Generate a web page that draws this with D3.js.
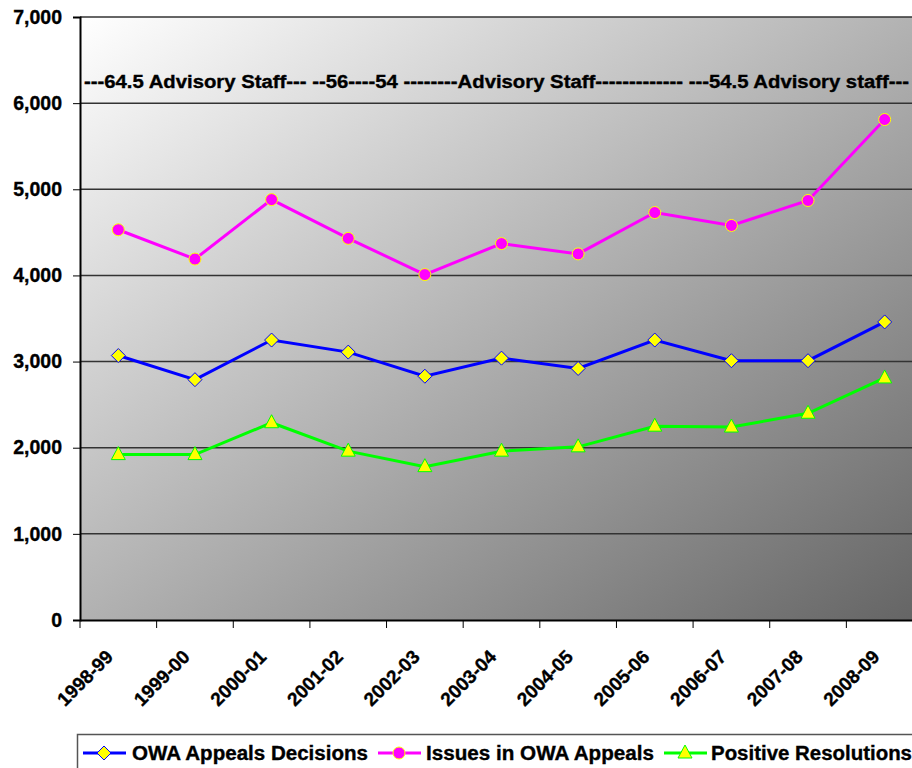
<!DOCTYPE html>
<html>
<head>
<meta charset="utf-8">
<script src="https://cdn.jsdelivr.net/npm/d3@7"></script>
<style>
  body { margin: 0; background: #fff; }
  svg { display: block; font-family: "Liberation Sans", Arial, sans-serif; }
  .lbl { stroke: #000; stroke-width: 0.35px; }
</style>
</head>
<body>
<script>
// data
const years = ["1998-99", "1999-00", "2000-01", "2001-02", "2002-03", "2003-04",
               "2004-05", "2005-06", "2006-07", "2007-08", "2008-09"]
const decisions = [3070, 2790, 3250, 3110, 2830, 3040, 2920, 3250, 3010, 3010, 3460]
const issues = [4530, 4190, 4880, 4430, 4010, 4370, 4250, 4730, 4580, 4870, 5810]
const positive = [1920, 1920, 2290, 1960, 1780, 1960, 2010, 2250, 2240, 2400, 2810]
const yTicks = [0, 1000, 2000, 3000, 4000, 5000, 6000, 7000]
const note = "---64.5 Advisory Staff---  --56----54 --------Advisory Staff------------- ---54.5 Advisory staff---"

const series = [
  { name: "OWA Appeals Decisions", values: decisions, line: "#0000ff", marker: "diamond" },
  { name: "Issues in OWA Appeals", values: issues, line: "#ff00ff", marker: "circle" },
  { name: "Positive Resolutions", values: positive, line: "#00ff00", marker: "triangle" }
]

const width = 912, height = 768
const margin = { top: 17, right: -11, bottom: 148, left: 80 }

const svg = d3.select("body").append("svg")
  .attr("width", width)
  .attr("height", height)

const defs = svg.append("defs")
const grad = defs.append("linearGradient")
  .attr("id", "bg")
  .attr("x1", 0).attr("y1", 0).attr("x2", 1).attr("y2", 1)
grad.append("stop").attr("offset", "0%").attr("stop-color", "#ffffff")
grad.append("stop").attr("offset", "100%").attr("stop-color", "#646464")

const x = d3.scaleBand()
  .domain(years)
  .range([margin.left, width - margin.right])

const y = d3.scaleLinear()
  .domain([0, 7000])
  .range([height - margin.bottom, margin.top])

// plot background
svg.append("rect")
  .attr("x", margin.left)
  .attr("y", margin.top)
  .attr("width", width - margin.right - margin.left)
  .attr("height", y(0) - margin.top)
  .attr("fill", "url(#bg)")

// gridlines
svg.append("g")
  .selectAll("line")
  .data(yTicks.filter(d => d > 0))
  .join("line")
    .attr("x1", margin.left)
    .attr("x2", width)
    .attr("y1", d => y(d))
    .attr("y2", d => y(d))
    .attr("stroke", "#333")
    .attr("stroke-width", 1.5)

// y axis
const yAxis = svg.append("g")
  .attr("transform", `translate(${margin.left},0)`)
  .call(d3.axisLeft(y).tickValues(yTicks).tickFormat(d3.format(",")).tickSize(7).tickPadding(11))
yAxis.select(".domain").attr("stroke", "#000").attr("stroke-width", 2)
yAxis.selectAll(".tick line").attr("stroke", "#000")
yAxis.selectAll(".tick text")
  .attr("class", "lbl")
  .attr("fill", "#000")
  .attr("font-size", 19.5)
  .attr("font-weight", "bold")

// x axis
const xAxis = svg.append("g")
  .attr("transform", `translate(0,${y(0)})`)
  .call(d3.axisBottom(x).tickSize(0).tickFormat(""))
xAxis.select(".domain").attr("stroke", "#000").attr("stroke-width", 2)

// ticks sit on the category boundaries
svg.append("g")
  .selectAll("line")
  .data(years)
  .join("line")
    .attr("x1", d => x(d))
    .attr("x2", d => x(d))
    .attr("y1", y(0))
    .attr("y2", y(0) + 8)
    .attr("stroke", "#000")

svg.append("g")
  .selectAll("text")
  .data(years)
  .join("text")
    .attr("class", "lbl")
    .attr("transform", d => `translate(${x(d) + x.bandwidth() / 2 - 4},${y(0) + 38}) rotate(-45)`)
    .attr("text-anchor", "end")
    .attr("font-size", 19)
    .attr("font-weight", "bold")
    .text(d => d)

// annotation
svg.append("text")
  .attr("class", "lbl")
  .attr("x", 84)
  .attr("y", 88)
  .attr("textLength", 825)
  .attr("lengthAdjust", "spacingAndGlyphs")
  .attr("font-size", 18)
  .attr("font-weight", "bold")
  .text(note)

const cx = (d, i) => x(years[i]) + x.bandwidth() / 2

function drawMarker(g, type) {
  if (type === "diamond") {
    g.append("path")
      .attr("d", "M0,-7L7,0L0,7L-7,0Z")
      .attr("fill", "#ffff00")
      .attr("stroke", "#0000ff")
      .attr("stroke-width", 1)
  } else if (type === "circle") {
    g.append("circle")
      .attr("r", 6)
      .attr("fill", "#ff00ff")
      .attr("stroke", "#ffff00")
      .attr("stroke-width", 1)
  } else {
    g.append("path")
      .attr("d", "M0,-8L7,5L-7,5Z")
      .attr("fill", "#ffff00")
      .attr("stroke", "#00ff00")
      .attr("stroke-width", 1)
  }
}

const line = d3.line().x(cx).y(d => y(d))

series.forEach(s => {
  svg.append("path")
    .datum(s.values)
    .attr("d", line)
    .attr("fill", "none")
    .attr("stroke", s.line)
    .attr("stroke-width", 3)

  svg.append("g")
    .selectAll("g")
    .data(s.values)
    .join("g")
      .attr("transform", (d, i) => `translate(${cx(d, i)},${y(d)})`)
      .each(function () { drawMarker(d3.select(this), s.marker) })
})

// legend
svg.append("rect")
  .attr("x", 77.5)
  .attr("y", 734.5)
  .attr("width", 850)
  .attr("height", 50)
  .attr("fill", "#fff")
  .attr("stroke", "#555")
  .attr("stroke-width", 1.5)

const legendPos = [
  { lx: 83, tx: 132, tw: 236 },
  { lx: 378, tx: 426, tw: 228 },
  { lx: 664, tx: 711, tw: 201 }
]

series.forEach((s, i) => {
  const p = legendPos[i]
  const g = svg.append("g")
  g.append("line")
    .attr("x1", p.lx).attr("x2", p.lx + 43)
    .attr("y1", 753).attr("y2", 753)
    .attr("stroke", s.line)
    .attr("stroke-width", 3)
  const m = g.append("g").attr("transform", `translate(${p.lx + 21},753)`)
  drawMarker(m, s.marker)
  g.append("text")
    .attr("class", "lbl")
    .attr("x", p.tx)
    .attr("y", 760)
    .attr("textLength", p.tw)
    .attr("lengthAdjust", "spacingAndGlyphs")
    .attr("font-size", 20)
    .attr("font-weight", "bold")
    .text(s.name)
})
</script>
</body>
</html>
